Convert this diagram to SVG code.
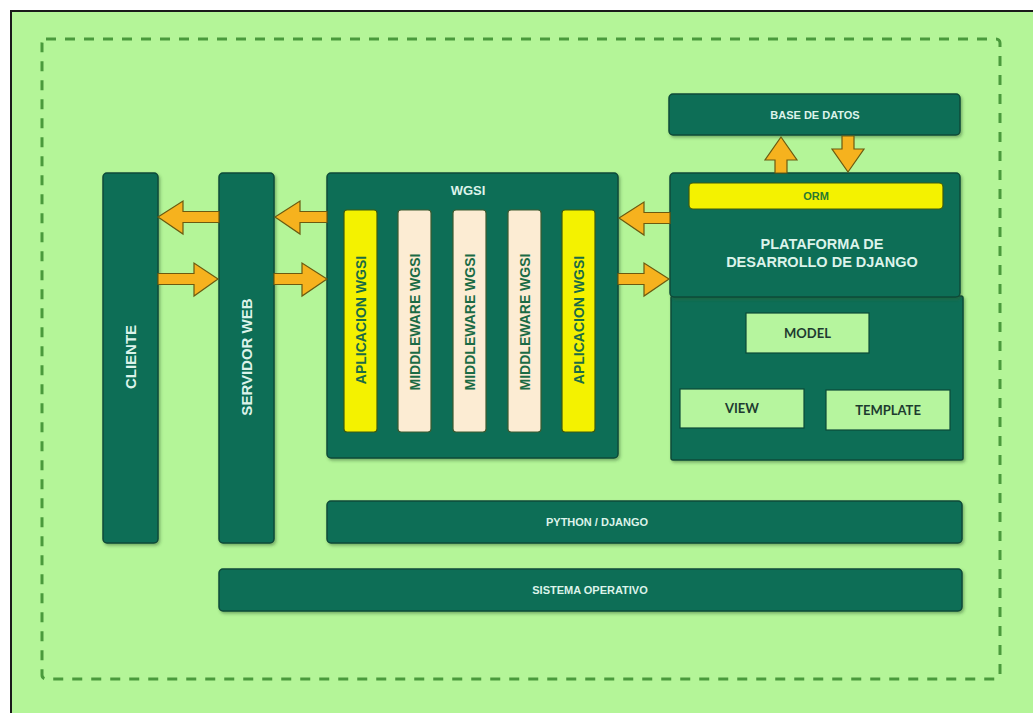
<svg xmlns="http://www.w3.org/2000/svg" width="1033" height="713" viewBox="0 0 1033 713">
<defs>
<style>
.box{fill:#0c6e57;stroke:#0a4a38;stroke-width:1.5;filter:url(#sh)}
.lbl{font-family:"Liberation Sans",Arial,sans-serif;font-weight:bold;fill:#dcf3ea;text-anchor:middle}
.col-y{fill:#f4f200;stroke:#3d5a10;stroke-width:1.2}
.col-c{fill:#fcecd3;stroke:#3d5a30;stroke-width:1.2}
.ctext{font-family:"Liberation Sans",Arial,sans-serif;font-weight:bold;font-size:14px;fill:#1b6b45;text-anchor:middle}
.mvc{fill:#b6f59e;stroke:#0a4a38;stroke-width:1.2}
.mtext{font-family:Lato,"Liberation Sans",sans-serif;font-weight:bold;font-size:13px;fill:#1e3b30;text-anchor:middle}
.arr{fill:#f6b21e;stroke:#6b5a10;stroke-width:1.2;stroke-linejoin:miter}
</style>
<filter id="sh" x="-10%" y="-10%" width="120%" height="130%">
<feDropShadow dx="1.5" dy="2" stdDeviation="1.5" flood-color="#2f5a2a" flood-opacity="0.45"/>
</filter>
</defs>
<rect x="0" y="0" width="1033" height="713" fill="#ffffff"/>
<rect x="11" y="11" width="1030" height="710" fill="#b4f598" stroke="#1a1a1a" stroke-width="2"/>
<rect x="42" y="39" width="958" height="640" rx="4" fill="none" stroke="#4a9a3c" stroke-width="3" stroke-dasharray="10 9"/>

<g id="cliente">
<rect class="box" x="103" y="173" width="55" height="370" rx="4"/>
<text class="lbl" font-size="15" transform="translate(135.5,357) rotate(-90)">CLIENTE</text>
</g>
<g id="servidor-web">
<rect class="box" x="219" y="173" width="55" height="370" rx="4"/>
<text class="lbl" font-size="15" transform="translate(251.5,357) rotate(-90)">SERVIDOR WEB</text>
</g>
<g id="wgsi">
<rect class="box" x="327" y="173" width="291" height="285" rx="4"/>
<text class="lbl" font-size="13" x="468" y="195">WGSI</text>
<rect class="col-y" x="344" y="210" width="33" height="222" rx="3"/>
<text class="ctext" transform="translate(365.5,320) rotate(-90)">APLICACION WGSI</text>
<rect class="col-c" x="398" y="210" width="33" height="222" rx="3"/>
<text class="ctext" transform="translate(419.5,322) rotate(-90)">MIDDLEWARE WGSI</text>
<rect class="col-c" x="453" y="210" width="33" height="222" rx="3"/>
<text class="ctext" transform="translate(474.5,322) rotate(-90)">MIDDLEWARE WGSI</text>
<rect class="col-c" x="508" y="210" width="33" height="222" rx="3"/>
<text class="ctext" transform="translate(529.5,322) rotate(-90)">MIDDLEWARE WGSI</text>
<rect class="col-y" x="562" y="210" width="33" height="222" rx="3"/>
<text class="ctext" transform="translate(583.5,320) rotate(-90)">APLICACION WGSI</text>
</g>
<g id="base-de-datos">
<rect class="box" x="669" y="94" width="291" height="41" rx="4"/>
<text class="lbl" font-size="11" x="815" y="119">BASE DE DATOS</text>
</g>
<g id="mvc">
<rect class="box" x="671" y="296" width="292" height="164" rx="2"/>
<rect class="mvc" x="746" y="313" width="123" height="40"/>
<text class="mtext" x="807.5" y="338">MODEL</text>
<rect class="mvc" x="680" y="389" width="124" height="39"/>
<text class="mtext" x="742" y="413">VIEW</text>
<rect class="mvc" x="826" y="390" width="124" height="40"/>
<text class="mtext" x="888" y="415">TEMPLATE</text>
</g>
<g id="plataforma">
<rect class="box" x="670" y="173" width="290" height="124" rx="4"/>
<rect x="689" y="183" width="254" height="26" rx="4" fill="#f4f200" stroke="#3d5a10" stroke-width="1.2"/>
<text class="lbl" font-size="11" x="816" y="200" style="fill:#2a7a30">ORM</text>
<text class="lbl" font-size="14.5" x="822" y="249">PLATAFORMA DE</text>
<text class="lbl" font-size="14.5" x="822" y="267">DESARROLLO DE DJANGO</text>
</g>
<g id="python-django">
<rect class="box" x="327" y="501" width="635" height="42" rx="4"/>
<text class="lbl" font-size="11" x="597" y="526">PYTHON / DJANGO</text>
</g>
<g id="sistema-operativo">
<rect class="box" x="219" y="569" width="743" height="42" rx="4"/>
<text class="lbl" font-size="11" x="590" y="594">SISTEMA OPERATIVO</text>
</g>

<g id="connectors">
<path class="arr" d="M158,217 L183,201 L183,211.5 L219,211.5 L219,222.5 L183,222.5 L183,234 Z"/>
<path class="arr" d="M275,217 L300,201 L300,211.5 L327,211.5 L327,222.5 L300,222.5 L300,234 Z"/>
<path class="arr" d="M619,218 L644,202 L644,212.5 L670,212.5 L670,223.5 L644,223.5 L644,235 Z"/>
<path class="arr" d="M218,279 L194,263 L194,273.5 L158,273.5 L158,284.5 L194,284.5 L194,296 Z"/>
<path class="arr" d="M327,279 L302,263 L302,273.5 L274,273.5 L274,284.5 L302,284.5 L302,296 Z"/>
<path class="arr" d="M669,279 L644,263 L644,273.5 L618,273.5 L618,284.5 L644,284.5 L644,296 Z"/>
<path class="arr" d="M781,137 L797,160 L787,160 L787,173 L775,173 L775,160 L765,160 Z"/>
<path class="arr" d="M848,172 L864,149 L854,149 L854,136 L842,136 L842,149 L832,149 Z"/>
</g>
</svg>
